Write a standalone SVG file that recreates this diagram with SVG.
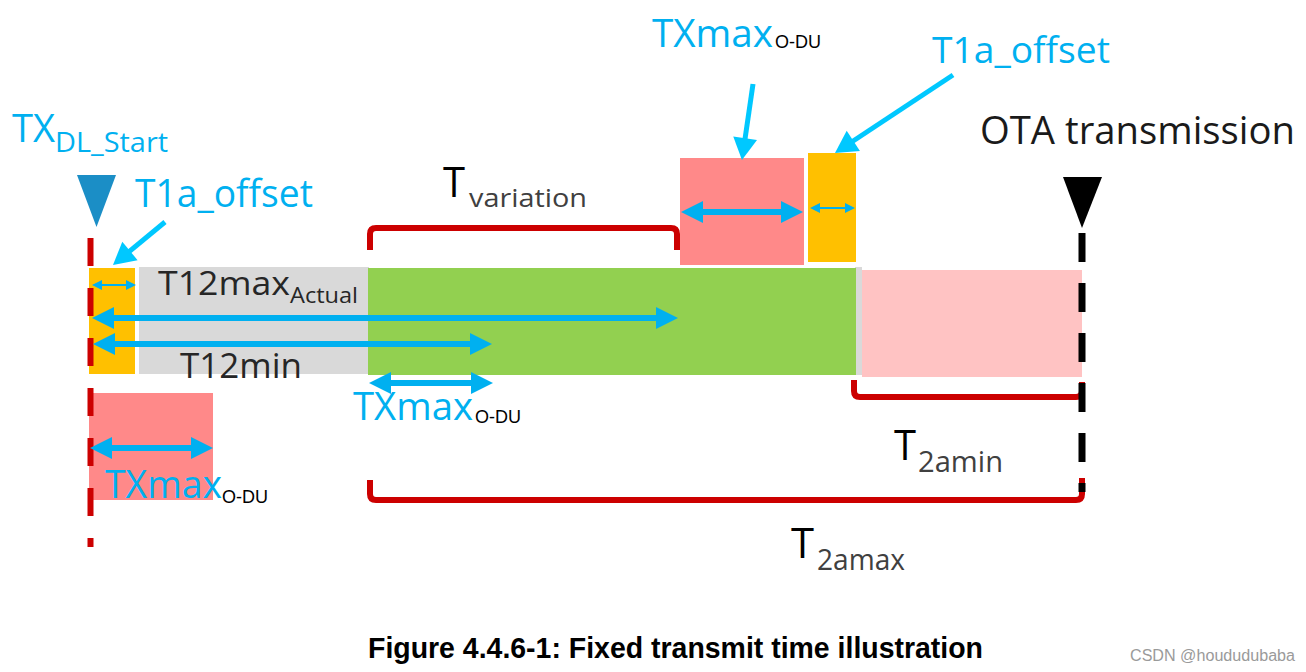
<svg xmlns="http://www.w3.org/2000/svg" width="1306" height="672" viewBox="0 0 1306 672">
<style>
.t{font-family:"Open Sans","Liberation Sans",sans-serif}
.cy{fill:#00B0F0}
.dk{fill:#1a1a1a}
.sub{fill:#404040}
.odu{font-family:"Liberation Sans",Arial,sans-serif;font-size:18px;fill:#000}
.br{fill:none;stroke:#CC0000;stroke-width:6;stroke-linejoin:round}
.ar{stroke:#00B0F0;stroke-width:6;fill:none;marker-start:url(#ah);marker-end:url(#ah)}
.sm{stroke:#00B0F0;stroke-width:2;fill:none;marker-start:url(#as);marker-end:url(#as)}
.co{stroke:#00C8FF;stroke-width:5;fill:none;marker-end:url(#ac)}
</style>
<defs>
<marker id="ah" markerUnits="userSpaceOnUse" markerWidth="22" markerHeight="22" refX="12" refY="11" orient="auto-start-reverse" overflow="visible"><path d="M0,0 L22,11 L0,22 z" fill="#00B0F0"/></marker>
<marker id="as" markerUnits="userSpaceOnUse" markerWidth="10" markerHeight="10" refX="6" refY="5" orient="auto-start-reverse" overflow="visible"><path d="M0,0 L10,5 L0,10 z" fill="#00B0F0"/></marker>
<marker id="ac" markerUnits="userSpaceOnUse" markerWidth="22" markerHeight="24" refX="12" refY="12" orient="auto" overflow="visible"><path d="M0,0 L22,12 L0,24 z" fill="#00C8FF"/></marker>
</defs>
<rect width="1306" height="672" fill="#fff"/>

<g id="blocks">
<rect id="orange-left" x="89" y="268" width="46" height="106" fill="#FFC000"/>
<rect id="gray-t12" x="139" y="267" width="230" height="107" fill="#D9D9D9"/>
<rect id="gray-edge" x="855" y="267" width="7" height="108" fill="#D9D9D9"/>
<rect id="green" x="368" y="268" width="488" height="107" fill="#92D050"/>
<rect id="pink-light" x="862" y="270" width="220" height="107" fill="#FFC3C3"/>
<rect id="pink-low" x="89" y="393" width="124" height="107" fill="#FF8989"/>
<rect id="pink-top" x="680" y="158" width="124" height="107" fill="#FF8989"/>
<rect id="orange-top" x="808" y="153" width="48" height="109" fill="#FFC000"/>
</g>

<g id="markers-lines">
<polygon id="tri-blue" points="77,175 116,175 96.5,227" fill="#1B8EC6"/>
<line id="dl-start-line" x1="90.5" y1="238" x2="90.5" y2="547" stroke="#CC0000" stroke-width="6" stroke-dasharray="28 22"/>
<polygon id="tri-black" points="1063,177 1102,177 1082,228" fill="#000"/>
</g>

<g id="brackets">
<path id="br-variation" class="br" d="M370,250 V234 Q370,228 376,228 H671 Q677,228 677,234 V250"/>
<path id="br-t2amin" class="br" d="M854,380 V391 Q854,397 860,397 H1076 Q1082,397 1082,391 V382"/>
<path id="br-t2amax" class="br" d="M370,480 V494 Q370,500 376,500 H1076 Q1082,500 1082,494 V478"/>
</g>
<line id="ota-line" x1="1082" y1="233" x2="1082" y2="492" stroke="#000" stroke-width="7" stroke-dasharray="29 21"/>

<g id="connectors">
<line class="sm" x1="96" y1="285" x2="132" y2="285"/>
<line class="ar" x1="102" y1="318" x2="668" y2="318"/>
<line class="ar" x1="103" y1="344" x2="482" y2="344"/>
<line class="ar" x1="379" y1="383" x2="483" y2="383"/>
<line class="ar" x1="100" y1="448" x2="203" y2="448"/>
<line class="ar" x1="691" y1="212" x2="793" y2="212"/>
<line class="sm" x1="814" y1="208" x2="851" y2="208"/>
<line class="co" x1="165" y1="222" x2="120.7" y2="258.6"/>
<line class="co" x1="753" y1="84" x2="743.4" y2="150.1"/>
<line class="co" x1="953" y1="75" x2="843.3" y2="147.5"/>
</g>

<g id="label-txdl">
<text class="t cy" x="12" y="142" font-size="38" textLength="43" lengthAdjust="spacingAndGlyphs">TX</text>
<text class="t cy" x="55" y="152" font-size="28" textLength="113" lengthAdjust="spacingAndGlyphs">DL_Start</text>
</g>
<g id="label-t1a-left">
<text class="t cy" x="135" y="207" font-size="38" textLength="178" lengthAdjust="spacingAndGlyphs">T1a_offset</text>
</g>
<g id="label-t1a-top">
<text class="t cy" x="932" y="63" font-size="37" textLength="178" lengthAdjust="spacingAndGlyphs">T1a_offset</text>
</g>
<g id="label-txmax-top">
<text class="t cy" x="652" y="47" font-size="38" textLength="121" lengthAdjust="spacingAndGlyphs">TXmax</text>
<text class="odu" x="775" y="48">O-DU</text>
</g>
<g id="label-txmax-mid">
<text class="t cy" x="353" y="420" font-size="38" textLength="120" lengthAdjust="spacingAndGlyphs">TXmax</text>
<text class="odu" x="475" y="423">O-DU</text>
</g>
<g id="label-txmax-low">
<text class="t cy" x="105" y="498" font-size="38" textLength="117" lengthAdjust="spacingAndGlyphs">TXmax</text>
<text class="odu" x="222" y="503">O-DU</text>
</g>
<g id="label-t12max">
<text class="t" fill="#262626" x="158" y="295" font-size="32" textLength="132" lengthAdjust="spacingAndGlyphs">T12max</text>
<text class="t" fill="#262626" x="290" y="303" font-size="22" textLength="68" lengthAdjust="spacingAndGlyphs">Actual</text>
</g>
<g id="label-t12min">
<text class="t" fill="#262626" x="180" y="378" font-size="34" textLength="122" lengthAdjust="spacingAndGlyphs">T12min</text>
</g>
<g id="label-tvariation">
<text class="t" fill="#000" x="443" y="197" font-size="42" textLength="22" lengthAdjust="spacingAndGlyphs">T</text>
<text class="t sub" x="469" y="207" font-size="26" textLength="118" lengthAdjust="spacingAndGlyphs">variation</text>
</g>
<g id="label-ota">
<text class="t dk" x="980" y="144" font-size="38" textLength="315" lengthAdjust="spacingAndGlyphs">OTA transmission</text>
</g>
<g id="label-t2amin">
<text class="t" fill="#000" x="894" y="460" font-size="42" textLength="22" lengthAdjust="spacingAndGlyphs">T</text>
<text class="t sub" x="918" y="472" font-size="29" textLength="85" lengthAdjust="spacingAndGlyphs">2amin</text>
</g>
<g id="label-t2amax">
<text class="t" fill="#000" x="791" y="558" font-size="42" textLength="23" lengthAdjust="spacingAndGlyphs">T</text>
<text class="t sub" x="817" y="570" font-size="29" textLength="88" lengthAdjust="spacingAndGlyphs">2amax</text>
</g>
<g id="caption">
<text x="368" y="658" font-family="Liberation Sans,Arial,sans-serif" font-weight="bold" font-size="29" fill="#000" textLength="615" lengthAdjust="spacingAndGlyphs">Figure 4.4.6-1: Fixed transmit time illustration</text>
<text x="1130" y="661" font-family="Liberation Sans,Arial,sans-serif" font-size="16" fill="#9a9a9a" textLength="165" lengthAdjust="spacingAndGlyphs">CSDN @hoududubaba</text>
</g>
</svg>
